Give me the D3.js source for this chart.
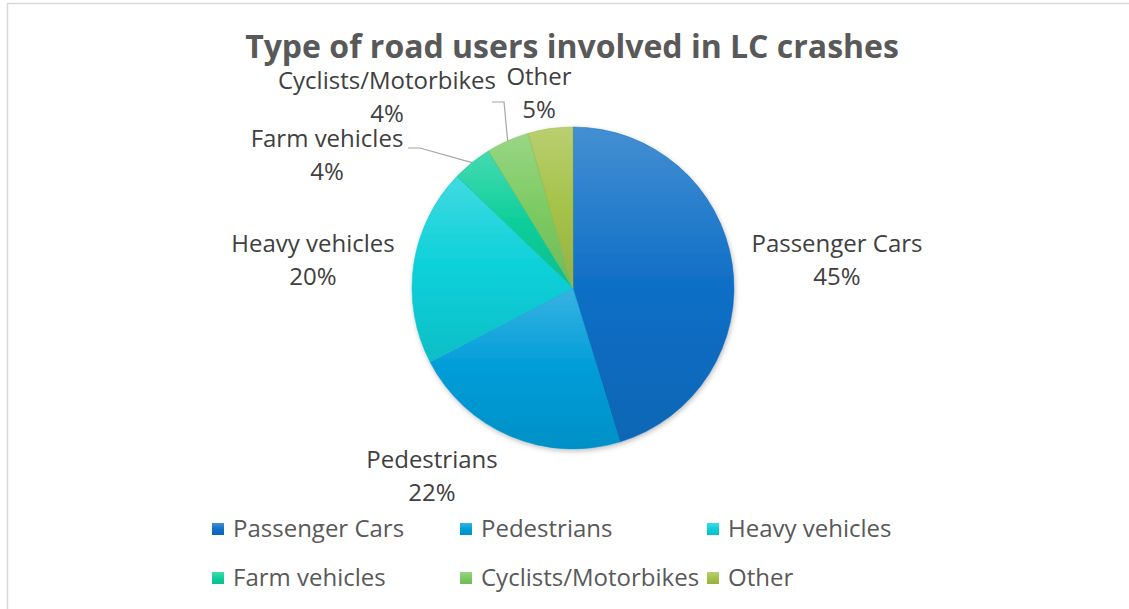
<!DOCTYPE html>
<html>
<head>
<meta charset="utf-8">
<script src="https://cdn.jsdelivr.net/npm/d3@7"></script>
<style>
  html, body { margin: 0; padding: 0; background: #fff; }
  svg { display: block; font-family: "Open Sans", "Noto Sans", sans-serif; }
</style>
</head>
<body>
<svg id="chart"></svg>
<script>
const title = "Type of road users involved in LC crashes";
const categories = ["Passenger Cars", "Pedestrians", "Heavy vehicles", "Farm vehicles", "Cyclists/Motorbikes", "Other"];
const shares = [45.3, 22.1, 19.8, 4.0, 4.3, 4.5];
const colors = ["#0F6FC6", "#009DD9", "#0BD0D9", "#10CF9B", "#7CCA62", "#A5C249"];

// where excel put the data labels (relative to pie centre), and which have leader lines
const labelPos = [[264, -27], [-141, 189], [-260, -27], [-246, -132], [-186, -190], [-34, -194]];
const leaders = [null, null, null, { x: 408, y: 148 }, { x: 492, y: 102 }, null];

const W = 1129, H = 609;
const cx = 573, cy = 288, radius = 161;

const svg = d3.select("#chart").attr("width", W).attr("height", H);

// chart area border
svg.append("rect")
  .attr("x", 7.5).attr("y", 3.5)
  .attr("width", W + 10).attr("height", H + 10)
  .attr("fill", "#fff")
  .attr("stroke", "#d9d9d9")
  .attr("stroke-width", 1.5);

const defs = svg.append("defs");
colors.forEach((c, i) => {
  const g = defs.append("linearGradient")
    .attr("id", "grad" + i)
    .attr("x1", 0).attr("y1", 0).attr("x2", 0).attr("y2", 1);
  g.append("stop").attr("offset", "0%").attr("stop-color", d3.interpolateRgb(c, "#fff")(0.22));
  g.append("stop").attr("offset", "50%").attr("stop-color", c);
  g.append("stop").attr("offset", "100%").attr("stop-color", d3.color(c).darker(0.25));
});
const shadow = defs.append("filter").attr("id", "shadow")
  .attr("x", "-20%").attr("y", "-20%").attr("width", "140%").attr("height", "140%");
shadow.append("feDropShadow")
  .attr("dx", 1).attr("dy", 2).attr("stdDeviation", 2.5)
  .attr("flood-color", "#000").attr("flood-opacity", 0.25);

svg.append("text")
  .attr("x", cx - 1).attr("y", 58)
  .attr("text-anchor", "middle")
  .attr("font-size", 32)
  .attr("font-weight", "bold")
  .attr("fill", "#595959")
  .text(title);

const data = categories.map((name, i) => ({ name: name, value: shares[i], i: i }));
const pie = d3.pie().sort(null).value((d) => d.value);
const arcs = pie(data);
const arc = d3.arc().innerRadius(0).outerRadius(radius);

const g = svg.append("g").attr("transform", `translate(${cx},${cy})`);
g.append("g")
  .attr("filter", "url(#shadow)")
  .selectAll("path")
  .data(arcs)
  .join("path")
  .attr("d", arc)
  .attr("fill", (d) => `url(#grad${d.data.i})`)
  .attr("stroke", (d) => d3.color(colors[d.data.i]).darker(0.2))
  .attr("stroke-width", 0.5);

// leader lines
const total = d3.sum(shares);
arcs.forEach((d) => {
  const ld = leaders[d.data.i];
  if (!ld) return;
  const mid = (d.startAngle + d.endAngle) / 2;
  const ex = cx + radius * Math.sin(mid);
  const ey = cy - radius * Math.cos(mid);
  svg.append("polyline")
    .attr("points", `${ld.x},${ld.y} ${ld.x + 12},${ld.y} ${ex},${ey}`)
    .attr("fill", "none")
    .attr("stroke", "#a6a6a6")
    .attr("stroke-width", 1.2);
});

// data labels
const labels = svg.append("g")
  .attr("font-size", 24)
  .attr("fill", "#404040")
  .attr("text-anchor", "middle");
arcs.forEach((d) => {
  const p = labelPos[d.data.i];
  const t = labels.append("text")
    .attr("x", cx + p[0])
    .attr("y", cy + p[1] - 9);
  t.append("tspan").attr("x", cx + p[0]).text(d.data.name);
  t.append("tspan").attr("x", cx + p[0]).attr("dy", 32.5)
    .text(Math.round((d.data.value / total) * 100) + "%");
});

// legend
const legendCols = [212, 460, 707];
const legendRows = [529, 578];
const legend = svg.append("g")
  .selectAll("g")
  .data(data)
  .join("g")
  .attr("transform", (d, i) => `translate(${legendCols[i % 3]},${legendRows[Math.floor(i / 3)]})`);
legend.append("rect")
  .attr("x", 0).attr("y", -6)
  .attr("width", 12).attr("height", 12)
  .attr("fill", (d) => `url(#grad${d.i})`);
legend.append("text")
  .attr("x", 21)
  .attr("y", 0)
  .attr("dy", "0.35em")
  .attr("font-size", 24)
  .attr("fill", "#595959")
  .text((d) => d.name);
</script>
</body>
</html>
